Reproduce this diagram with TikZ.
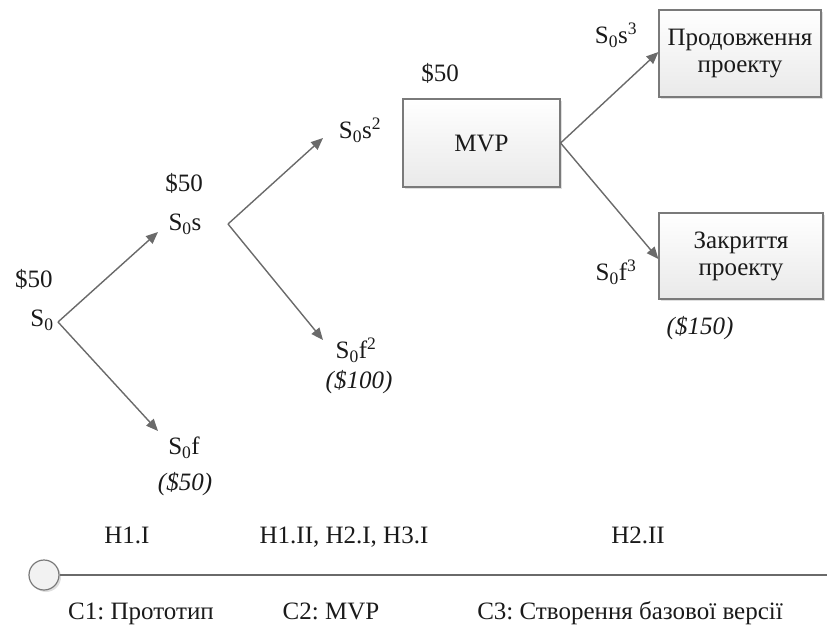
\documentclass[tikz,border=0pt]{standalone}
\usepackage{fontspec}
\setmainfont{Liberation Serif}
\usetikzlibrary{arrows.meta,shadows}
\definecolor{linegray}{HTML}{6A6A6A}
\definecolor{boxfill}{HTML}{E9E9E9}
\definecolor{boxline}{HTML}{7A7A7A}
\definecolor{txt}{HTML}{1A1A1A}
\frenchspacing
\tikzset{
  lbl/.style={inner sep=0pt, text=txt, font=\fontsize{25}{29}\selectfont},
  cost/.style={lbl, font=\fontsize{25}{29}\selectfont\itshape},
  rowlbl/.style={lbl, anchor=base},
  branch/.style={draw=linegray, line width=1.4pt, -{Triangle[length=12pt,width=10pt]}},
  stagebox/.style={draw=boxline, line width=1.2pt, top color=white, bottom color=boxfill,
    align=center, text=txt, font=\fontsize{25}{27}\selectfont, inner sep=0pt,
    drop shadow={shadow xshift=2pt, shadow yshift=-2pt, opacity=0.25}},
}
\newcommand{\Sz}{S\textsubscript{0}}
\begin{document}
\begin{tikzpicture}[x=1pt,y=-1pt]
\useasboundingbox (0,0) rectangle (827,633);

% tree labels
\node[lbl] (c0) at (34,279) {\$50};
\node[lbl] (s0) at (42,320) {\Sz};
\node[lbl] (c1) at (184,183) {\$50};
\node[lbl] (s0s) at (185,224) {\Sz s};
\node[lbl] (s0f) at (184,448) {\Sz f};
\node[cost] (l1) at (185,484) {(\$50)};
\node[lbl] (s0s2) at (360,130) {\Sz s\textsuperscript{2}};
\node[lbl] (s0f2) at (356,350) {\Sz f\textsuperscript{2}};
\node[cost] (l2) at (359,382) {(\$100)};
\node[lbl] (c2) at (440,73) {\$50};
\node[lbl] (s0s3) at (616,35) {\Sz s\textsuperscript{3}};
\node[lbl] (s0f3) at (616,272) {\Sz f\textsuperscript{3}};
\node[cost] (l3) at (700,328) {(\$150)};

% stage boxes
\node[stagebox, minimum width=157pt, minimum height=88pt] (mvp) at (481.5,143) {MVP};
\node[stagebox, minimum width=162pt, minimum height=87pt] (cont) at (740,53.5) {Продовження\\проекту};
\node[stagebox, minimum width=164pt, minimum height=86pt] (close) at (741,256) {Закриття\\проекту};

% branch points and arrow tips
\coordinate (b0) at (58,322);
\coordinate (b1) at (228,224);
\coordinate (t1) at (158,232);
\coordinate (t2) at (158,431);
\coordinate (t3) at (323,138);
\coordinate (t4) at (323,340);

\draw[branch] (b0) -- (t1);
\draw[branch] (b0) -- (t2);
\draw[branch] (b1) -- (t3);
\draw[branch] (b1) -- (t4);
\draw[branch] (mvp.east) -- ([yshift=1.5pt]cont.west);
\draw[branch] (mvp.east) -- ([yshift=-3pt]close.west);

% timeline
\node[rowlbl] (h1) at (127,543) {H1.I};
\node[rowlbl] (h2) at (344,543) {H1.II, H2.I, H3.I};
\node[rowlbl] (h3) at (638,543) {H2.II};
\node[circle, draw=boxline, line width=1.2pt, fill=boxfill!60!white, minimum size=30pt, inner sep=0pt,
      drop shadow={shadow xshift=2pt, shadow yshift=-2pt, opacity=0.25}] (start) at (44,575) {};
\coordinate (tend) at (827,575);
\draw[draw=linegray, line width=1.3pt] (start.east) -- (tend);
\node[rowlbl] (st1) at (141,619) {C1: Прототип};
\node[rowlbl] (st2) at (331,619) {C2: MVP};
\node[rowlbl] (st3) at (630,619) {C3: Створення базової версії};
\end{tikzpicture}
\end{document}
